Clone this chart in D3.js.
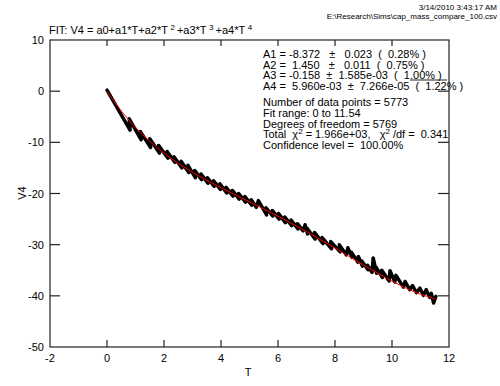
<!DOCTYPE html>
<html>
<head>
<meta charset="utf-8">
<script src="https://cdn.jsdelivr.net/npm/d3@7"></script>
<style>
  body { margin: 0; background: #fff; }
  svg text { font-family: "Liberation Sans", Arial, sans-serif; white-space: pre; }
</style>
</head>
<body>
<svg width="500" height="386"></svg>
<script>
// ticks
var xTicks = [-2, 0, 2, 4, 6, 8, 10, 12];
var yTicks = [-50, -40, -30, -20, -10, 0, 10];

// fit curve (red)
var fitT = [0, 0.5, 1, 1.5, 2, 2.5, 3, 3.5, 4, 4.5, 5, 5.5, 6, 6.5, 7, 7.5, 8, 8.5, 9, 9.5, 10, 10.5, 11, 11.5, 11.54];
var fitV = [0, -3.84, -7.07, -9.80, -12.11, -14.10, -15.85, -17.42, -18.87, -20.27, -21.64, -23.02, -24.44, -25.91, -27.43, -29.03, -30.67, -32.33, -33.98, -35.59, -37.12, -38.51, -39.68, -40.56, -40.63];

var dataT = [0.00, 0.81, 0.78, 1.20, 1.17, 1.53, 1.50, 1.84, 1.81, 2.14, 2.11, 2.38, 2.35, 2.63, 2.60, 2.87, 2.84, 3.10,
  3.08, 3.32, 3.30, 3.54, 3.52, 3.76, 3.74, 3.98, 3.96, 4.20, 4.18, 4.42, 4.40, 4.64, 4.62, 4.86, 4.84, 5.08,
  5.06, 5.24, 5.31, 5.60, 5.58, 5.82, 5.80, 6.04, 6.02, 6.26, 6.24, 6.48, 6.46, 6.70, 6.68, 6.88, 6.95, 7.04,
  7.02, 7.30, 7.28, 7.58, 7.55, 7.88, 7.85, 8.18, 8.15, 8.40, 8.45, 8.60, 8.58, 8.80, 8.82, 8.96, 8.94, 9.16,
  9.14, 9.30, 9.34, 9.46, 9.44, 9.66, 9.64, 9.90, 9.93, 10.10, 10.14, 10.40, 10.46, 10.62, 10.72, 10.86,
  10.98, 11.10, 11.20, 11.32, 11.38, 11.46, 11.54];
var dataV = [0.2, -7.6, -5.4, -9.5, -7.9, -11.0, -9.3, -12.1, -10.6, -13.1, -11.8, -13.9, -12.8, -15.0, -13.7, -15.9, -14.5, -16.9,
  -15.5, -17.3, -16.2, -18.0, -16.9, -18.6, -17.5, -19.2, -18.1, -19.9, -18.8, -20.5, -19.4, -21.1, -20.0, -21.7, -20.6, -22.3,
  -21.2, -22.7, -21.4, -24.2, -22.8, -24.4, -23.3, -25.0, -23.9, -25.7, -24.6, -26.3, -25.2, -26.9, -25.9, -27.3, -26.1, -27.9,
  -26.8, -28.9, -27.6, -29.8, -28.6, -30.8, -29.4, -31.4, -30.0, -32.0, -30.6, -32.5, -31.5, -33.4, -32.3, -34.2, -33.2, -34.9,
  -34.0, -35.4, -32.6, -35.6, -34.4, -36.4, -35.0, -37.1, -35.1, -37.3, -36.0, -38.3, -37.2, -38.8, -38.0, -39.4,
  -38.5, -39.9, -38.8, -40.3, -39.5, -41.4, -40.1];

var statLines = [
  "A1 = -8.372   \u00b1   0.023  (  0.28% )",
  "A2 =  1.450   \u00b1   0.011  (  0.75% )",
  "A3 = -0.158  \u00b1  1.585e-03  (  1.00% )",
  "A4 =  5.960e-03  \u00b1  7.266e-05  (  1.22% )"
];
var infoLines = [
  "Number of data points = 5773",
  "Fit range: 0 to 11.54",
  "Degrees of freedom = 5769",
  "chi",
  "Confidence level =  100.00%"
];

var svg = d3.select("svg");
var pLeft = 50, pRight = 449, pTop = 40, pBottom = 347;

var x = d3.scaleLinear().domain([-2, 12]).range([pLeft, pRight]);
var y = d3.scaleLinear().domain([-50, 10]).range([pBottom, pTop]);

//header texts
svg.append("text").attr("x", 497).attr("y", 9.5).attr("text-anchor", "end")
  .attr("font-size", 8).text("3/14/2010 3:43:17 AM");
svg.append("text").attr("x", 497).attr("y", 19).attr("text-anchor", "end")
  .attr("font-size", 8).text("E:\\Research\\Sims\\cap_mass_compare_100.csv");

var title = svg.append("text").attr("x", 49).attr("y", 33.5).attr("font-size", 11);
title.append("tspan").text("FIT: V4 = a0+a1*T+a2*T");
title.append("tspan").attr("dx", 2.5).attr("dy", -4).attr("font-size", 8).text("2");
title.append("tspan").attr("dx", 2).attr("dy", 4).text("+a3*T");
title.append("tspan").attr("dx", 2.5).attr("dy", -4).attr("font-size", 8).text("3");
title.append("tspan").attr("dx", 2).attr("dy", 4).text("+a4*T");
title.append("tspan").attr("dx", 2.5).attr("dy", -4).attr("font-size", 8).text("4");

// data line
var pts = dataT.map(function(t, i){ return [t, dataV[i]]; });
svg.append("path")
  .datum(pts)
  .attr("d", d3.line().x(d => x(d[0])).y(d => y(d[1])))
  .attr("fill", "none")
  .attr("stroke", "#000")
  .attr("stroke-width", 3.5)
  .attr("stroke-linejoin", "round")
  .attr("stroke-linecap", "round");

// fit line
var fitPts = fitT.map(function(t, i){ return [t, fitV[i]]; });
svg.append("path")
  .datum(fitPts)
  .attr("d", d3.line().curve(d3.curveMonotoneX).x(d => x(d[0])).y(d => y(d[1])))
  .attr("fill", "none")
  .attr("stroke", "#ff0000")
  .attr("stroke-width", 1);

// frame
svg.append("rect")
  .attr("x", pLeft).attr("y", pTop)
  .attr("width", pRight - pLeft).attr("height", pBottom - pTop)
  .attr("fill", "none").attr("stroke", "#222").attr("stroke-width", 1.2);

// ticks
var tk = svg.append("g").attr("stroke", "#222").attr("stroke-width", 1.2);
tk.selectAll(".tb").data(xTicks.slice(1, -1)).enter().append("line")
  .attr("x1", d => x(d)).attr("x2", d => x(d)).attr("y1", pBottom).attr("y2", pBottom - 7);
tk.selectAll(".tt").data(xTicks.slice(1, -1)).enter().append("line")
  .attr("x1", d => x(d)).attr("x2", d => x(d)).attr("y1", pTop).attr("y2", pTop + 6);
tk.selectAll(".tl").data(yTicks.slice(1, -1)).enter().append("line")
  .attr("x1", pLeft).attr("x2", pLeft + 10).attr("y1", d => y(d)).attr("y2", d => y(d));
tk.selectAll(".tr").data(yTicks.slice(1, -1)).enter().append("line")
  .attr("x1", pRight).attr("x2", pRight - 11).attr("y1", d => y(d)).attr("y2", d => y(d));

// tick labels
svg.selectAll(".xl").data(xTicks).enter().append("text")
  .attr("x", d => x(d)).attr("y", 362).attr("text-anchor", "middle")
  .attr("font-size", 11).text(d => d);
svg.selectAll(".yl").data(yTicks).enter().append("text")
  .attr("x", 44).attr("y", d => y(d) + 4).attr("text-anchor", "end")
  .attr("font-size", 11).text(d => d);

// axis titles
svg.append("text").attr("x", 248).attr("y", 376).attr("text-anchor", "middle")
  .attr("font-size", 11).text("T");
svg.append("text").attr("transform", "translate(26,193) rotate(-90)")
  .attr("text-anchor", "middle").attr("font-size", 11).text("V4");

// fit stats
svg.selectAll(".st").data(statLines).enter().append("text")
  .attr("x", 263).attr("y", (d, i) => 58 + i * 10.5)
  .attr("font-size", 11).text(d => d);
svg.append("line").attr("x1", 410).attr("x2", 447).attr("y1", 80).attr("y2", 80)
  .attr("stroke", "#222").attr("stroke-width", 1);

infoLines.forEach(function(s, i){
  var t = svg.append("text").attr("x", 263).attr("y", 106 + i * 10.8).attr("font-size", 11);
  if (s === "chi") {
    t.append("tspan").text("Total  \u03c7");
    t.append("tspan").attr("dy", -4).attr("font-size", 8).text("2");
    t.append("tspan").attr("dy", 4).text(" = 1.966e+03,   \u03c7");
    t.append("tspan").attr("dy", -4).attr("font-size", 8).text("2");
    t.append("tspan").attr("dy", 4).text(" /df =  0.341");
  } else {
    t.text(s);
  }
});
</script>
</body>
</html>
